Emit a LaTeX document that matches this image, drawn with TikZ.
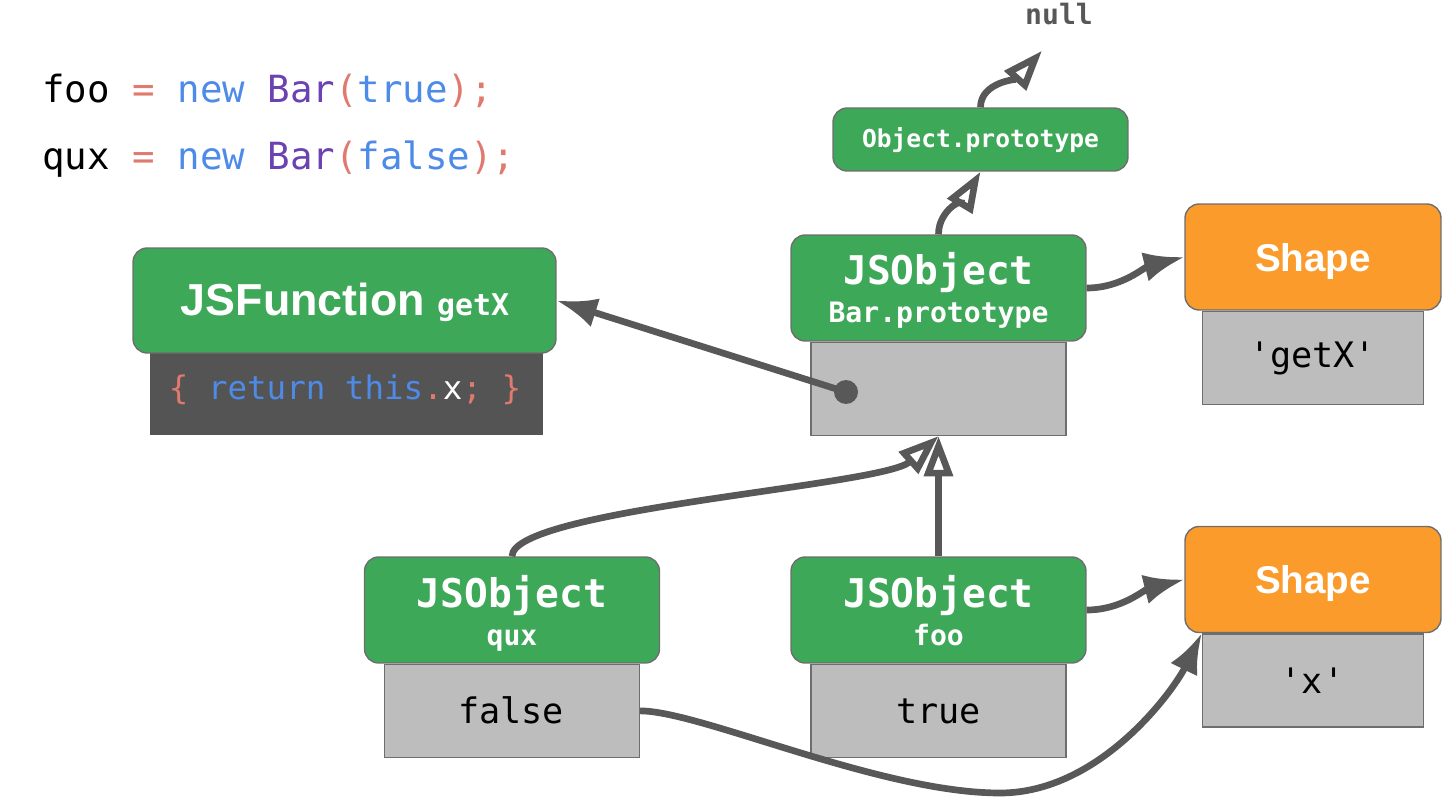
\documentclass[tikz,border=0pt]{standalone}
\usepackage{fontspec}
\setmainfont{Liberation Sans}
\newfontfamily\monofont{DejaVu Sans Mono}
\usetikzlibrary{arrows.meta}
\definecolor{jsgreen}{RGB}{61,168,88}
\definecolor{shapeorange}{RGB}{250,155,44}
\definecolor{slotgray}{RGB}{189,189,189}
\definecolor{codedark}{RGB}{84,84,84}
\definecolor{boxline}{RGB}{110,110,110}
\definecolor{arrowgray}{RGB}{88,88,88}
\definecolor{codesalmon}{RGB}{224,122,110}
\definecolor{codeblue}{RGB}{78,139,232}
\definecolor{codepurple}{RGB}{106,66,178}
\begin{document}
\begin{tikzpicture}[
        x=0.02cm, y=-0.02cm,
        every node/.style={inner sep=0pt},
        objbox/.style={draw=boxline, line width=0.8pt, fill=jsgreen, rounded corners=8pt, minimum width=5.9cm, minimum height=2.12cm},
        shapebox/.style={draw=boxline, line width=0.8pt, fill=shapeorange, rounded corners=8pt, minimum width=5.12cm, minimum height=2.12cm},
        slot/.style={draw=boxline, line width=0.8pt, fill=slotgray, minimum width=5.1cm, minimum height=1.86cm, anchor=north},
        objtitle/.style={text=white, font=\monofont\bfseries\fontsize{22.5}{26}\selectfont, anchor=base},
        objname/.style={text=white, font=\monofont\bfseries\fontsize{16}{19}\selectfont, anchor=base},
        shapetitle/.style={text=white, font=\bfseries\fontsize{22}{26}\selectfont, anchor=base},
        value/.style={font=\monofont\fontsize{20}{24}\selectfont, anchor=base},
        code/.style={font=\monofont\fontsize{21.3}{25}\selectfont, anchor=base west},
        ptr/.style={draw=arrowgray, line width=3.8pt, -{Latex[length=23pt, width=17pt]}},
        proto/.style={draw=arrowgray, line width=3.8pt, -{Triangle[open, length=23pt, width=16pt]}}
    ]
    \useasboundingbox (0,0) rectangle (1454,800);

    % Codigo
    \node[code] (codefoo) at (42,103) {foo \textcolor{codesalmon}{=} \textcolor{codeblue}{new} \textcolor{codepurple}{Bar}\textcolor{codesalmon}{(}\textcolor{codeblue}{true}\textcolor{codesalmon}{);}};
    \node[code] (codequx) at (42,170) {qux \textcolor{codesalmon}{=} \textcolor{codeblue}{new} \textcolor{codepurple}{Bar}\textcolor{codesalmon}{(}\textcolor{codeblue}{false}\textcolor{codesalmon}{);}};

    % JSFunction
    \node[fill=codedark, minimum width=7.86cm, minimum height=1.64cm, anchor=north] (fnbody) at (346.5,353) {};
    \node[objbox, minimum width=8.46cm, minimum height=2.1cm] (jsfn) at (344.5,300.5) {};
    \node[text=white, anchor=base] (jsfntitle) at (345,316) {\bfseries\fontsize{25.5}{30}\selectfont JSFunction \monofont\fontsize{17}{20}\selectfont getX};
    \node[font=\monofont\fontsize{18.5}{22}\selectfont, anchor=base] (fncode) at (345,400) {\textcolor{codesalmon}{\{} \textcolor{codeblue}{return this}\textcolor{codesalmon}{.}\textcolor{white}{x}\textcolor{codesalmon}{;} \textcolor{codesalmon}{\}}};

    % Prototipos
    \node[objbox, minimum height=1.26cm] (objproto) at (980.5,139.5) {};
    \node[text=white, font=\monofont\bfseries\fontsize{14}{17}\selectfont, anchor=base] (objprototext) at (980.5,148) {Object.prototype};
    \node[text=arrowgray, font=\monofont\bfseries\fontsize{16}{19}\selectfont, anchor=base] (null) at (1059,25) {null};
    \coordinate (nullend) at ([xshift=-0.34cm, yshift=-0.5cm]null.south);

    \node[objbox] (barproto) at (938.5,288) {};
    \node[slot] (barslot) at (barproto.south) {};
    \node[objtitle] (bartitle) at (938.5,285) {JSObject};
    \node[objname] (barname) at (938.5,323) {Bar.prototype};
    \node[circle, fill=arrowgray, minimum size=0.48cm] (slotdot) at (846,392) {};

    % Objetos
    \node[objbox] (quxobj) at (512,610) {};
    \node[slot] (quxslot) at (quxobj.south) {};
    \node[objtitle] (quxtitle) at (512,607) {JSObject};
    \node[objname] (quxname) at (512,645) {qux};
    \node[value] (quxvalue) at (511,723) {false};

    \node[objbox] (fooobj) at (938.5,610) {};
    \node[slot] (fooslot) at (fooobj.south) {};
    \node[objtitle] (footitle) at (938.5,607) {JSObject};
    \node[objname] (fooname) at (938.5,645) {foo};
    \node[value] (foovalue) at (938.5,723) {true};

    % Shapes
    \node[shapebox] (shapegetx) at (1313,257) {};
    \node[slot, minimum width=4.42cm] (shapegetxslot) at (shapegetx.south) {};
    \node[shapetitle] (shapegetxtitle) at (1313,272) {Shape};
    \node[value] (getxkey) at (1312.5,368) {'getX'};

    \node[shapebox] (shapex) at (1313,579.5) {};
    \node[slot, minimum width=4.42cm] (shapexslot) at (shapex.south) {};
    \node[shapetitle] (shapextitle) at (1313,593) {Shape};
    \node[value] (xkey) at (1312.5,693) {'x'};

    % Aristas
    \coordinate (dip) at (1000,793);
    \draw[ptr] (slotdot.center) -- (jsfn.east);
    \draw[ptr] (barproto.east) .. controls +(35,0) and +(-40,10) .. (shapegetx.west);
    \draw[ptr] (fooobj.east) .. controls +(35,0) and +(-40,10) .. (shapex.west);
    \draw[ptr] (quxslot.east) .. controls +(60,0) and +(-120,0) .. (dip) .. controls +(100,0) and +(-28,57) .. (shapexslot.north west);
    \draw[proto] (fooobj.north) -- (barslot.south);
    \draw[proto] (quxobj.north) .. controls +(0,-47) and +(-56,50) .. (barslot.south);
    \draw[proto] (barproto.north) .. controls +(0,-25) and +(-15,25) .. (objproto.south);
    \draw[proto] (objproto.north) .. controls +(0,-25) and +(-25,28) .. (nullend);
\end{tikzpicture}
\end{document}
